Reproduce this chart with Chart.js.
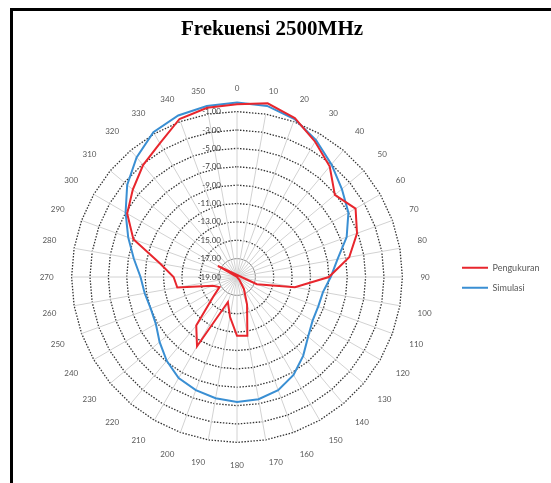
<!DOCTYPE html>
<html>
<head>
<meta charset="utf-8">
<title>Frekuensi 2500MHz</title>
<script src="https://cdn.jsdelivr.net/npm/chart.js@4/dist/chart.umd.min.js"></script>
<style>
  html, body { margin: 0; padding: 0; background: #ffffff; overflow: hidden; }
  #wrap { position: relative; width: 551px; height: 483px; }
  #frame {
    position: absolute; left: 10px; top: 8px; width: 620px; height: 560px;
    border-left: 3px solid #000; border-top: 3px solid #000; pointer-events: none;
  }
  canvas { display: block; }
</style>
</head>
<body>
<div id="wrap">
  <canvas id="chart" width="551" height="483"></canvas>
  <div id="frame"></div>
</div>
<script>
// Azimuth angles (degrees) around the polar grid
const angles = ['0','10','20','30','40','50','60','70','80','90','100','110',
                '120','130','140','150','160','170','180','190','200','210','220','230',
                '240','250','260','270','280','290','300','310','320','330','340','350'];

// Measured pattern (dB)
const pengukuran = [-0.2, 0.2, -0.6, -2.0, -3.3, -5.1, -4.1, -5.1, -6.6, -9.0, -12.6, -16.7,
                    -21.4, -19.0, -18.6, -17.5, -15.8, -12.5, -12.6, -14.6, -16.1, -10.3, -12.1, -15.6,
                    -16.8, -16.2, -12.4, -12.1, -10.5, -7.0, -5.2, -4.2, -3.1, -2.2, -0.7, -0.3];

// Simulated pattern (dB)
const simulasi = [0.0, -0.1, -0.7, -1.8, -3.0, -4.1, -5.0, -6.3, -7.9, -8.8, -9.5, -9.6,
                  -9.5, -8.9, -7.8, -6.7, -5.9, -5.5, -5.4, -5.6, -5.9, -6.3, -7.1, -8.0,
                  -8.8, -9.0, -8.8, -8.5, -7.6, -6.4, -5.0, -3.4, -2.0, -0.8, -0.3, -0.1];

const seriesNames = ['Pengukuran', 'Simulasi'];
const titleText = 'Frekuensi 2500MHz';

// Radial axis range and step (dB)
const rMin = -19;
const rMax = -1;
const rStep = 2;

// Layout: polar centre at x = 236, legend column starting right of the plot
const legendFontSize = 9;
const legendFont = legendFontSize + 'px Lato';
const legendPad = 11;
const legendBox = 26;
const plotRight = 451;
const measure = document.createElement('canvas').getContext('2d');
measure.font = legendFont;
const legendText = Math.max(...seriesNames.map(n => measure.measureText(n).width));
const legendWidth = legendPad + legendBox + legendFontSize / 2 + legendText + 10;
const padRight = 551 - plotRight - legendWidth;
const padLeft = 2 * 236 - plotRight;

// Value labels along the vertical axis, right-aligned left of the centre
const ringValues = {
  id: 'ringValues',
  beforeDatasetsDraw(chart) {
    const s = chart.scales.r;
    const ctx = chart.ctx;
    ctx.save();
    ctx.font = '8px Lato, "Open Sans", sans-serif';
    ctx.fillStyle = '#404040';
    ctx.textAlign = 'right';
    ctx.textBaseline = 'middle';
    s.ticks.forEach(t => {
      const d = s.getDistanceFromCenterForValue(t.value);
      ctx.fillText(t.value.toFixed(2), s.xCenter - 16, s.yCenter - d);
    });
    ctx.restore();
  }
};

// Heading centred over the plot and legend together
const heading = {
  id: 'heading',
  afterDraw(chart, args, opts) {
    const ctx = chart.ctx;
    ctx.save();
    ctx.font = 'bold 21px "Liberation Serif", "Times New Roman", serif';
    ctx.fillStyle = '#000000';
    ctx.textAlign = 'center';
    ctx.textBaseline = 'middle';
    ctx.fillText(opts.text, opts.x, opts.y);
    ctx.restore();
  }
};

new Chart(document.getElementById('chart'), {
  type: 'radar',
  data: {
    labels: angles,
    datasets: [
      {
        label: seriesNames[0],
        data: pengukuran,
        borderColor: '#e8262d',
        backgroundColor: '#e8262d',
        borderWidth: 2,
        pointRadius: 0,
        pointHoverRadius: 0,
        fill: false,
        tension: 0
      },
      {
        label: seriesNames[1],
        data: simulasi,
        borderColor: '#3a8fd3',
        backgroundColor: '#3a8fd3',
        borderWidth: 2,
        pointRadius: 0,
        pointHoverRadius: 0,
        fill: false,
        tension: 0
      }
    ]
  },
  options: {
    responsive: false,
    devicePixelRatio: 1,
    animation: false,
    layout: { padding: { left: padLeft, right: padRight, top: 84, bottom: 11.5 } },
    plugins: {
      heading: { text: titleText, x: 272, y: 30 },
      title: { display: false },
      legend: {
        position: 'right',
        fullSize: false,
        labels: {
          boxWidth: legendBox,
          boxHeight: 0,
          padding: legendPad,
          color: '#595959',
          font: { family: 'Lato, "Open Sans", sans-serif', size: legendFontSize }
        }
      },
      tooltip: { enabled: false }
    },
    scales: {
      r: {
        min: rMin,
        max: rMax,
        beginAtZero: false,
        ticks: { stepSize: rStep, display: false },
        grid: {
          color: ctx => ctx.index === 1 ? '#8a8a8a' : '#333333',
          lineWidth: ctx => ctx.index === 1 ? 1 : 1.3
        },
        border: {
          dash: ctx => ctx.index === 1 ? [] : [1.5, 1.5]
        },
        angleLines: { color: '#d2d2d2', lineWidth: 1 },
        pointLabels: {
          color: '#595959',
          padding: 18,
          font: { family: 'Lato, "Open Sans", sans-serif', size: 8 }
        }
      }
    }
  },
  plugins: [ringValues, heading]
});
</script>
</body>
</html>
